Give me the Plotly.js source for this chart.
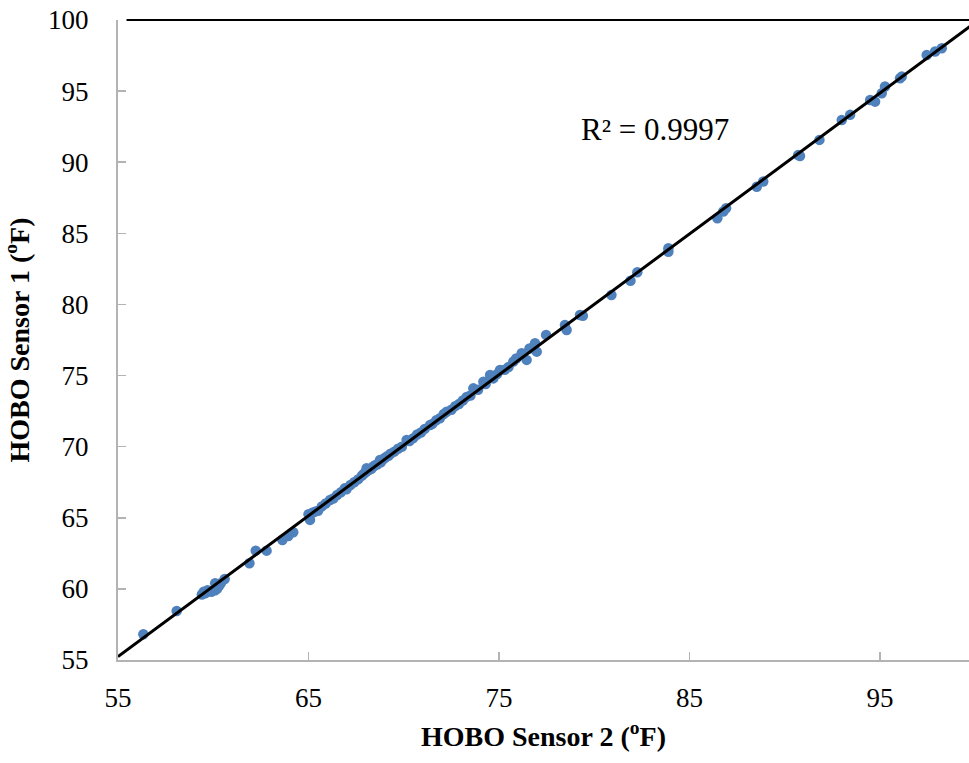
<!DOCTYPE html>
<html>
<head>
<meta charset="utf-8">
<script src="https://cdn.plot.ly/plotly-3.0.1.min.js"></script>
<style>html,body{margin:0;padding:0;background:#fff;}#chart{width:969px;height:763px;}</style>
</head>
<body>
<div id="chart"></div>
<script>
// HOBO Sensor 2 readings (x, °F)
const sensor2 = [
  56.33, 58.08, 59.4, 59.5, 59.6, 59.7, 59.9, 60.1, 60.2, 60.3, 60.4, 60.6, 60.1,
  61.9, 62.23, 62.8, 63.63, 63.94, 64.2, 65.0, 65.08, 65.2, 65.34, 65.5,
  65.7, 65.9, 66.13, 66.3, 66.5, 66.7, 66.9, 67.0, 67.2, 67.4, 67.6, 67.8, 67.9,
  68.0, 68.05, 68.1, 68.2, 68.3, 68.4, 68.5, 68.6, 68.75, 68.8, 68.9, 69.0, 69.1,
  69.2, 69.3, 69.5, 69.7, 69.9, 70.15, 70.3, 70.5, 70.7, 70.9, 71.1, 71.38, 71.5,
  71.7, 71.9, 72.1, 72.25, 72.5, 72.7, 72.9, 73.1, 73.3, 73.5, 73.65, 73.9,
  74.18, 74.3, 74.53, 74.7, 74.9, 75.05, 75.3, 75.5, 75.75, 75.9, 76.19, 76.45,
  76.6, 76.89, 76.98, 77.47, 78.46, 78.55, 79.25, 79.4,
  80.9, 81.9, 82.26, 83.89, 83.89, 86.46, 86.77, 86.92, 88.53, 88.87,
  90.7, 90.8, 91.82, 92.99, 93.43, 94.48, 94.74, 95.09, 95.26, 96.05, 96.14,
  97.45, 97.89, 98.24
];
// HOBO Sensor 1 readings (y, °F)
const sensor1 = [
  56.81, 58.45, 59.6, 59.8, 59.7, 59.9, 59.8, 59.9, 60.0, 60.2, 60.4, 60.7, 60.4,
  61.8, 62.69, 62.69, 63.44, 63.72, 63.98, 65.25, 64.85, 65.35, 65.43, 65.5,
  65.8, 66.0, 66.25, 66.35, 66.6, 66.8, 67.07, 67.0, 67.3, 67.5, 67.7, 67.95, 68.1,
  68.2, 68.48, 68.3, 68.4, 68.45, 68.6, 68.7, 68.75, 69.06, 68.9, 69.1, 69.2, 69.3,
  69.35, 69.5, 69.65, 69.85, 70.0, 70.47, 70.4, 70.6, 70.85, 71.0, 71.25, 71.52, 71.6,
  71.85, 72.0, 72.3, 72.46, 72.6, 72.85, 73.0, 73.25, 73.5, 73.6, 74.1, 74.0,
  74.57, 74.4, 75.04, 74.8, 75.1, 75.39, 75.4, 75.6, 75.98, 76.2, 76.57, 76.1,
  76.9, 77.27, 76.68, 77.86, 78.56, 78.2, 79.26, 79.2,
  80.67, 81.67, 82.26, 83.7, 83.95, 86.06, 86.53, 86.76, 88.27, 88.64,
  90.5, 90.44, 91.57, 92.97, 93.33, 94.38, 94.26, 94.85, 95.32, 95.9, 96.02,
  97.54, 97.78, 98.01
];
const xTicks = [55, 65, 75, 85, 95];
const yTicks = [55, 60, 65, 70, 75, 80, 85, 90, 95, 100];
const r2Label = 'R² = 0.9997';

// least-squares linear trendline from the data
const n = sensor2.length;
const mx = sensor2.reduce((a, b) => a + b, 0) / n;
const my = sensor1.reduce((a, b) => a + b, 0) / n;
let sxy = 0, sxx = 0;
for (let i = 0; i < n; i++) { sxy += (sensor2[i] - mx) * (sensor1[i] - my); sxx += (sensor2[i] - mx) ** 2; }
const slope = sxy / sxx, intercept = my - slope * mx;
const trendX = [55, 100];
const trendY = trendX.map(v => slope * v + intercept);

const font = 'Liberation Serif, Times New Roman, serif';
const data = [
  { x: sensor2, y: sensor1, type: 'scatter', mode: 'markers',
    marker: { color: '#4F81BD', size: 10.5 }, cliponaxis: true, hoverinfo: 'x+y' },
  { x: trendX, y: trendY, type: 'scatter', mode: 'lines',
    line: { color: '#000000', width: 3 }, hoverinfo: 'skip' }
];
const layout = {
  width: 969, height: 763,
  margin: { l: 118, r: 0, t: 20, b: 103 },
  paper_bgcolor: '#ffffff', plot_bgcolor: '#ffffff',
  showlegend: false,
  font: { family: font, color: '#000000', size: 27 },
  xaxis: {
    range: [55, 99.67], tickvals: xTicks, ticktext: xTicks.map(String),
    showgrid: false, zeroline: false, showline: true, linecolor: '#b3b3b3', linewidth: 2,
    ticks: 'inside', ticklen: 8, tickwidth: 1.5, tickcolor: '#b3b3b3',
    ticklabelstandoff: 13, tickfont: { family: font, size: 27, color: '#000' },
    title: { text: 'HOBO Sensor 2 (<sup>o</sup>F)', standoff: 14,
      font: { family: font, size: 28, color: '#000', weight: 'bold' } }
  },
  yaxis: {
    range: [55, 100], tickvals: yTicks, ticktext: yTicks.map(String),
    showgrid: false, zeroline: false, showline: true, linecolor: '#b3b3b3', linewidth: 2,
    ticks: 'inside', ticklen: 8, tickwidth: 1.5, tickcolor: '#b3b3b3',
    ticklabelstandoff: 22, tickfont: { family: font, size: 27, color: '#000' },
    title: { text: 'HOBO Sensor 1 (<sup>o</sup>F)', standoff: 12,
      font: { family: font, size: 28, color: '#000', weight: 'bold' } }
  },
  shapes: [
    { type: 'line', xref: 'paper', yref: 'paper', x0: 0.01, x1: 1, y0: 1, y1: 1,
      line: { color: '#000000', width: 2 } }
  ],
  annotations: [
    { x: 83.2, y: 92.3, xref: 'x', yref: 'y', text: r2Label, showarrow: false,
      font: { family: font, size: 31, color: '#000' } }
  ]
};
Plotly.newPlot('chart', data, layout, { displayModeBar: false, staticPlot: true });
</script>
</body>
</html>
